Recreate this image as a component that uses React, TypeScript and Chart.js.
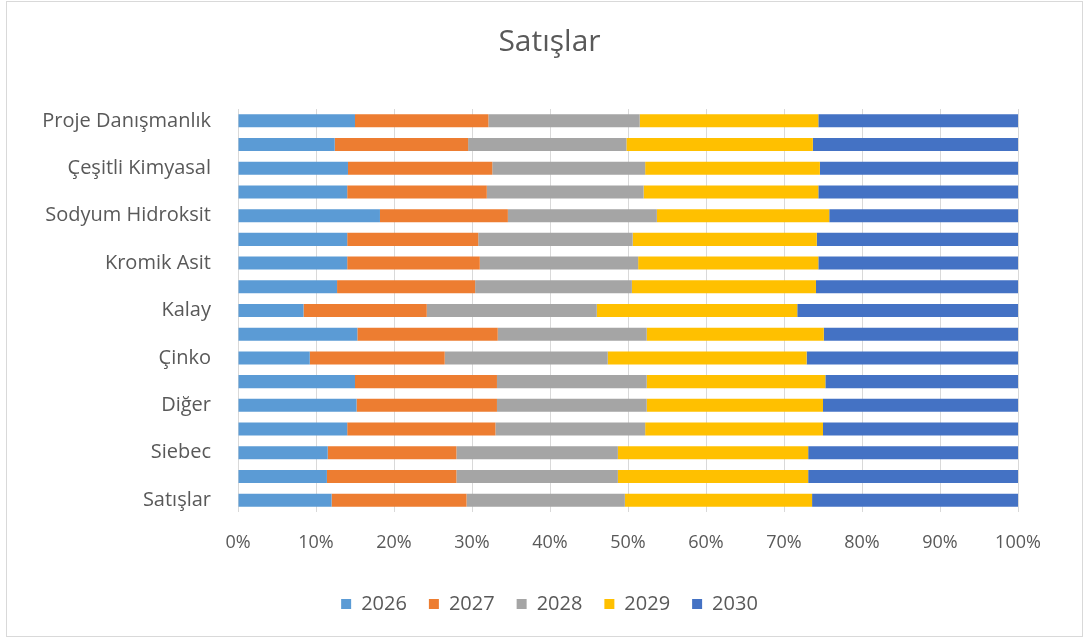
import React, { useEffect, useRef } from "react";
import { Chart, registerables } from "chart.js";

Chart.register(...registerables);

// Categories from bottom (first) to top (last); unlabeled rows are hidden in the original
const categories: string[] = [
  "Satışlar", "", "Siebec", "", "Diğer", "", "Çinko", "", "Kalay", "",
  "Kromik Asit", "", "Sodyum Hidroksit", "", "Çeşitli Kimyasal", "", "Proje Danışmanlık",
];
const seriesNames: string[] = ["2026", "2027", "2028", "2029", "2030"];
const values2026: number[] = [12.0, 11.4, 11.5, 14.0, 15.2, 15.0, 9.2, 15.3, 8.4, 12.7, 14.0, 14.0, 18.2, 14.0, 14.1, 12.4, 15.0];
const values2027: number[] = [17.3, 16.6, 16.5, 19.0, 18.0, 18.2, 17.3, 18.0, 15.8, 17.7, 17.0, 16.8, 16.4, 17.9, 18.5, 17.1, 17.1];
const values2028: number[] = [20.3, 20.7, 20.7, 19.2, 19.2, 19.2, 20.9, 19.1, 21.8, 20.1, 20.3, 19.8, 19.1, 20.1, 19.6, 20.3, 19.4];
const values2029: number[] = [24.0, 24.4, 24.4, 22.8, 22.6, 22.9, 25.5, 22.7, 25.7, 23.6, 23.1, 23.6, 22.1, 22.4, 22.4, 23.9, 22.9];
const values2030: number[] = [26.4, 26.9, 26.9, 25.0, 25.0, 24.7, 27.1, 24.9, 28.3, 25.9, 25.6, 25.8, 24.2, 25.6, 25.4, 26.3, 25.6];
const xTicks: number[] = [0, 10, 20, 30, 40, 50, 60, 70, 80, 90, 100];
const colors: string[] = ["#5B9BD5", "#ED7D31", "#A5A5A5", "#FFC000", "#4472C4"];

const FONT = "'Open Sans', 'Liberation Sans', sans-serif";
const TEXT = "#595959";

export default function App() {
  const ref = useRef<HTMLCanvasElement | null>(null);
  useEffect(() => {
    document.body.style.margin = "0";
    const series = [values2026, values2027, values2028, values2029, values2030];
    const chart = new Chart(ref.current!, {
      type: "bar",
      data: {
        labels: categories,
        datasets: series.map((d, i) => ({
          label: seriesNames[i],
          data: d,
          backgroundColor: colors[i],
          borderWidth: 0,
          barPercentage: 0.55,
          categoryPercentage: 1,
        })),
      },
      options: {
        indexAxis: "y",
        animation: false,
        responsive: false,
        maintainAspectRatio: false,
        layout: { padding: { left: 10, right: 0, top: 22, bottom: 12 } },
        plugins: {
          title: {
            display: true,
            text: "Satışlar",
            color: TEXT,
            font: { family: FONT, size: 30, weight: "normal" },
            padding: { top: 0, bottom: 49 },
          },
          legend: {
            position: "bottom",
            labels: {
              color: TEXT,
              font: { family: FONT, size: 20 },
              boxWidth: 10,
              boxHeight: 10,
              padding: 22,
            },
          },
          tooltip: { enabled: false },
        },
        scales: {
          x: {
            stacked: true,
            min: 0,
            max: 100,
            afterBuildTicks: (s: any) => {
              s.ticks = xTicks.map((v) => ({ value: v }));
            },
            ticks: {
              color: TEXT,
              font: { family: FONT, size: 18 },
              padding: 20,
              callback: (v: any) => v + "%",
            },
            grid: { color: "#D9D9D9", drawTicks: false, lineWidth: 1 },
            border: { display: false },
            afterFit: (s: any) => {
              s.height = 60;
            },
          },
          y: {
            stacked: true,
            reverse: true,
            ticks: {
              color: TEXT,
              font: { family: FONT, size: 20 },
              padding: 27,
              autoSkip: false,
            },
            grid: { display: false, drawTicks: false },
            border: { display: false },
            afterFit: (s: any) => {
              s.width = 221;
            },
          },
          yRightSpace: {
            type: "category",
            position: "right",
            display: true,
            ticks: { display: false },
            grid: { display: false, drawTicks: false },
            border: { display: false },
            afterFit: (s: any) => {
              s.width = 64;
            },
          },
        },
      },
    });
    return () => chart.destroy();
  }, []);
  return (
    <div
      style={{
        position: "absolute",
        left: 6,
        top: 1,
        width: 1077,
        height: 636,
        border: "1px solid #D9D9D9",
        boxSizing: "border-box",
        background: "#fff",
      }}
    >
      <canvas ref={ref} width={1075} height={634} style={{ display: "block" }} />
    </div>
  );
}
